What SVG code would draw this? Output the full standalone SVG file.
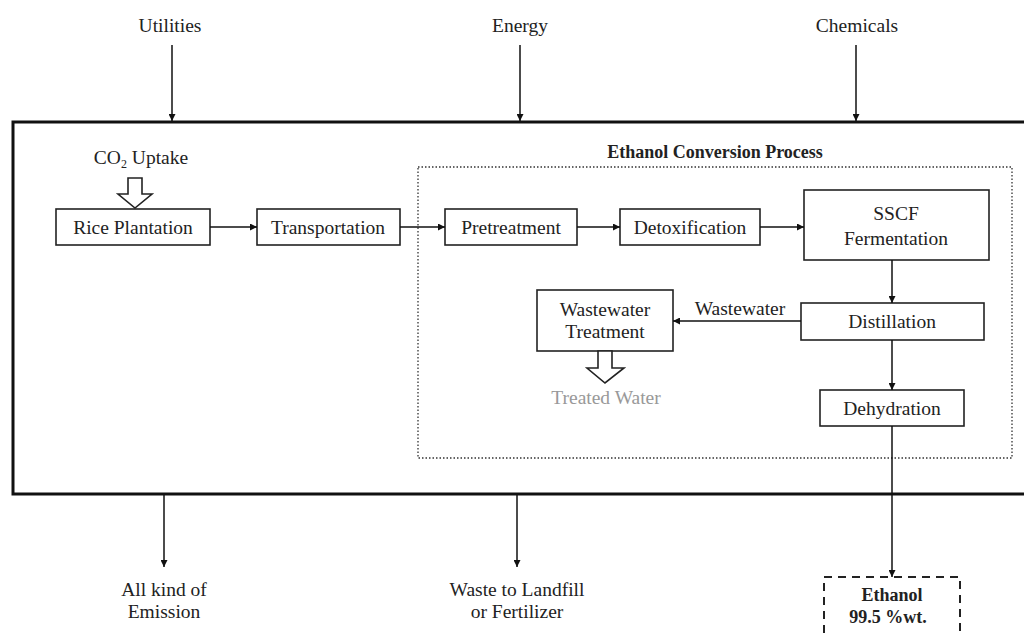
<svg xmlns="http://www.w3.org/2000/svg" width="1024" height="635" viewBox="0 0 1024 635">
<defs>
<marker id="ah" viewBox="0 0 10 10" refX="10" refY="5" markerWidth="7" markerHeight="7" markerUnits="userSpaceOnUse" orient="auto">
<path d="M0,0 L10,5 L0,10 z" fill="#111"/>
</marker>
<style>
text{font-family:"Liberation Serif","Times New Roman",serif;font-size:19.5px;fill:#222;text-anchor:middle}
.b{font-weight:bold;font-size:18px}
.box{fill:#fff;stroke:#222;stroke-width:1.6}
.ln{stroke:#111;stroke-width:1.5;fill:none}
.hollow{fill:#fff;stroke:#222;stroke-width:1.6}
</style>
</defs>
<rect width="1024" height="635" fill="#fff"/>
<g id="system">
<rect x="13" y="122" width="1030" height="372" fill="none" stroke="#111" stroke-width="3"/>
</g>
<g id="process-area">
<rect x="418" y="167" width="594" height="291" fill="none" stroke="#333" stroke-width="1.3" stroke-dasharray="1.5,2"/>
<text class="b" x="715" y="158">Ethanol Conversion Process</text>
</g>
<g id="inputs">
<text x="170" y="32">Utilities</text>
<text x="520" y="32">Energy</text>
<text x="857" y="32">Chemicals</text>
</g>
<g id="co2">
<text x="141" y="164">CO<tspan font-size="12" dy="4">2</tspan><tspan dy="-4"> Uptake</tspan></text>
<path class="hollow" d="M128,178 H142 V194 H152 L135,208 L118,194 H128 Z"/>
</g>
<g id="rice"><rect class="box" x="56" y="209" width="154" height="36"/><text x="133" y="234">Rice Plantation</text></g>
<g id="transport"><rect class="box" x="257" y="209" width="143" height="36"/><text x="328" y="234">Transportation</text></g>
<g id="pretreat"><rect class="box" x="445" y="209" width="132" height="36"/><text x="511" y="234">Pretreatment</text></g>
<g id="detox"><rect class="box" x="620" y="209" width="140" height="36"/><text x="690" y="234">Detoxification</text></g>
<g id="sscf"><rect class="box" x="804" y="190" width="185" height="70"/><text x="896" y="220">SSCF</text><text x="896" y="245">Fermentation</text></g>
<g id="distill"><rect class="box" x="801" y="303" width="183" height="37"/><text x="892" y="328">Distillation</text></g>
<g id="wwt"><rect class="box" x="537" y="290" width="136" height="61"/><text x="605" y="316">Wastewater</text><text x="605" y="338">Treatment</text></g>
<g id="treated">
<path class="hollow" d="M598,351 H612 V368 H624 L605,383 L587,368 H598 Z"/>
<text x="606" y="404" style="fill:#999">Treated Water</text>
</g>
<g id="dehyd"><rect class="box" x="820" y="390" width="144" height="36"/><text x="892" y="415">Dehydration</text></g>
<g id="ethanol">
<rect x="824" y="577" width="136" height="60" fill="#fff" stroke="#222" stroke-width="2" stroke-dasharray="8,6"/>
<text class="b" x="892" y="601">Ethanol</text>
<text class="b" x="888" y="623">99.5 %wt.</text>
</g>
<g id="outputs">
<text x="164" y="596">All kind of</text>
<text x="164" y="618">Emission</text>
<text x="517" y="596">Waste to Landfill</text>
<text x="517" y="618">or Fertilizer</text>
</g>
<g id="connectors">
<line class="ln" x1="172" y1="45" x2="172" y2="121" marker-end="url(#ah)"/>
<line class="ln" x1="520" y1="45" x2="520" y2="121" marker-end="url(#ah)"/>
<line class="ln" x1="856" y1="45" x2="856" y2="121" marker-end="url(#ah)"/>
<line class="ln" x1="210" y1="227" x2="257" y2="227" marker-end="url(#ah)"/>
<line class="ln" x1="400" y1="227" x2="445" y2="227" marker-end="url(#ah)"/>
<line class="ln" x1="577" y1="227" x2="620" y2="227" marker-end="url(#ah)"/>
<line class="ln" x1="760" y1="227" x2="804" y2="227" marker-end="url(#ah)"/>
<line class="ln" x1="892" y1="260" x2="892" y2="303" marker-end="url(#ah)"/>
<line class="ln" x1="801" y1="321" x2="673" y2="321" marker-end="url(#ah)"/>
<text x="740" y="315">Wastewater</text>
<line class="ln" x1="892" y1="340" x2="892" y2="390" marker-end="url(#ah)"/>
<line class="ln" x1="892" y1="426" x2="892" y2="577" marker-end="url(#ah)"/>
<line class="ln" x1="164" y1="495" x2="164" y2="567" marker-end="url(#ah)"/>
<line class="ln" x1="517" y1="495" x2="517" y2="567" marker-end="url(#ah)"/>
</g>
</svg>
